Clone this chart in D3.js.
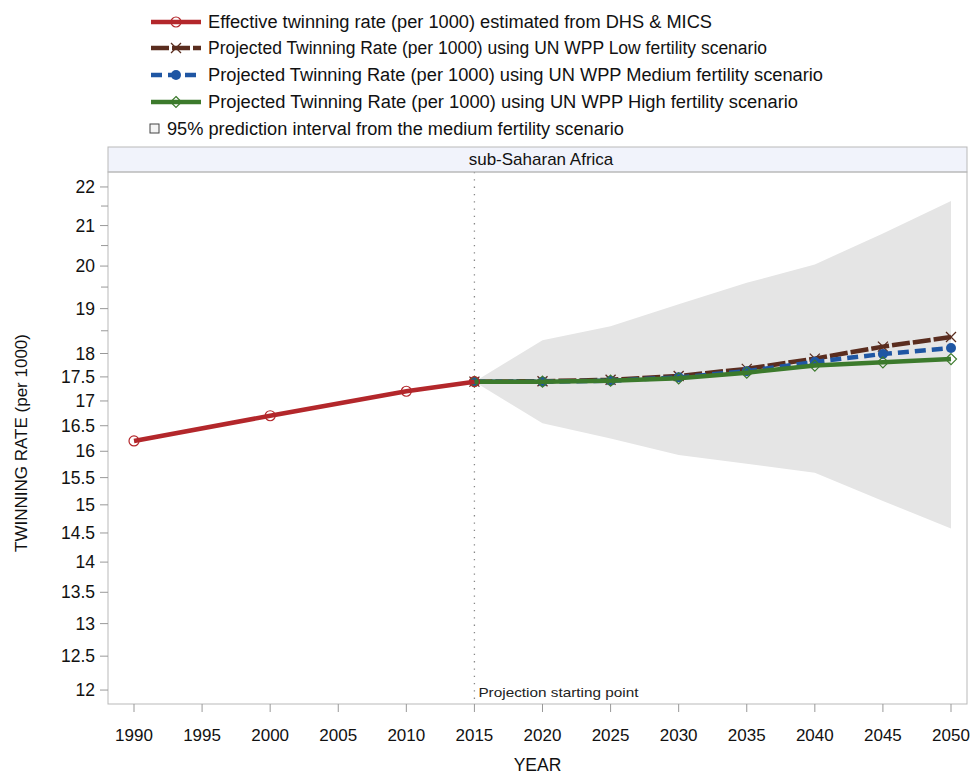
<!DOCTYPE html>
<html><head><meta charset="utf-8">
<script src="https://cdn.jsdelivr.net/npm/d3@7"></script>
<style>body{margin:0;background:#fff;} text{font-family:"Liberation Sans",Arial,sans-serif;}</style>
</head><body><svg id="c" width="973" height="775"></svg>
<script>
const years = [1990, 1995, 2000, 2005, 2010, 2015, 2020, 2025, 2030, 2035, 2040, 2045, 2050];
const obsYears = [1990, 2000, 2010, 2015];
const obsRate = [16.2, 16.7, 17.2, 17.4];
const projYears = [2015, 2020, 2025, 2030, 2035, 2040, 2045, 2050];
const lowRate = [17.4, 17.41, 17.44, 17.52, 17.67, 17.89, 18.15, 18.36];
const medRate = [17.4, 17.4, 17.42, 17.49, 17.62, 17.82, 17.99, 18.12];
const highRate = [17.4, 17.4, 17.42, 17.47, 17.59, 17.74, 17.81, 17.88];
const piUpper = [17.4, 18.29, 18.6, 19.1, 19.6, 20.04, 20.8, 21.63];
const piLower = [17.4, 16.55, 16.25, 15.93, 15.76, 15.59, 15.07, 14.58];
const yTicks = [12, 12.5, 13, 13.5, 14, 14.5, 15, 15.5, 16, 16.5, 17, 17.5, 18, 19, 20, 21, 22];
const yMinor = [18.5, 19.5, 20.5, 21.5];
const legendLabels = [
  "Effective twinning rate (per 1000) estimated from DHS & MICS",
  "Projected Twinning Rate (per 1000) using UN WPP Low fertility scenario",
  "Projected Twinning Rate (per 1000) using UN WPP Medium fertility scenario",
  "Projected Twinning Rate (per 1000) using UN WPP High fertility scenario",
  "95% prediction interval from the medium fertility scenario"
];
const legendTextLen = [504, 559, 615, 590, 457];

const svg = d3.select("#c");
const L = 108, R = 967, T = 172, B = 704, HT = 147;
const x = d3.scaleLinear().domain([1990, 2050]).range([134, 951]);
const y = d3.scaleLog().domain([11.8, 22.4]).range([B, T]);

const colRed = "#b3272b", colBrown = "#5a2d1f", colBlue = "#1f56a3", colGreen = "#3c7a2c";

// header strip
svg.append("rect").attr("x", L).attr("y", HT).attr("width", R - L).attr("height", T - HT)
  .attr("fill", "#f1f3fb").attr("stroke", "#b9b9b9").attr("stroke-width", 1);
svg.append("text").attr("x", 541).attr("y", T - 7).attr("text-anchor", "middle")
  .attr("font-size", 17).attr("fill", "#111").text("sub-Saharan Africa");

// band
const band = projYears.map((yr, i) => ({yr, lo: piLower[i], hi: piUpper[i]}));
svg.append("path").datum(band)
  .attr("d", d3.area().x(d => x(d.yr)).y0(d => y(d.lo)).y1(d => y(d.hi)))
  .attr("fill", "#e5e5e5");

// vertical dotted reference line
svg.append("line").attr("x1", x(2015)).attr("x2", x(2015)).attr("y1", T).attr("y2", B)
  .attr("stroke", "#888").attr("stroke-width", 1.3).attr("stroke-dasharray", "1.3,6");
svg.append("text").attr("x", x(2015) + 4).attr("y", B - 7).attr("font-size", 13)
  .attr("fill", "#222").attr("textLength", 160).attr("lengthAdjust", "spacingAndGlyphs")
  .text("Projection starting point");

// frame
svg.append("rect").attr("x", L).attr("y", T).attr("width", R - L).attr("height", B - T)
  .attr("fill", "none").attr("stroke", "#b9b9b9").attr("stroke-width", 1);

// y axis
const yAxis = svg.append("g");
yAxis.selectAll("line.maj").data(yTicks).join("line")
  .attr("x1", L - 8).attr("x2", L).attr("y1", d => y(d)).attr("y2", d => y(d))
  .attr("stroke", "#999");
yAxis.selectAll("line.min").data(yMinor).join("line")
  .attr("x1", L - 7).attr("x2", L).attr("y1", d => y(d)).attr("y2", d => y(d))
  .attr("stroke", "#999");
yAxis.selectAll("text").data(yTicks).join("text")
  .attr("x", L - 13).attr("y", d => y(d) + 6).attr("text-anchor", "end")
  .attr("font-size", 17.5).attr("fill", "#111").text(d => d);
svg.append("text").attr("transform", `translate(27,${(T + B) / 2 + 5}) rotate(-90)`)
  .attr("text-anchor", "middle").attr("font-size", 17).attr("fill", "#111")
  .text("TWINNING RATE (per 1000)");

// x axis
const xAxis = svg.append("g");
xAxis.selectAll("line").data(years).join("line")
  .attr("x1", d => x(d)).attr("x2", d => x(d)).attr("y1", B).attr("y2", B + 8)
  .attr("stroke", "#999");
xAxis.selectAll("text").data(years).join("text")
  .attr("x", d => x(d)).attr("y", B + 37).attr("text-anchor", "middle")
  .attr("font-size", 17).attr("fill", "#111").text(d => d);
svg.append("text").attr("x", (L + R) / 2).attr("y", 771).attr("text-anchor", "middle")
  .attr("font-size", 17.5).attr("fill", "#111").text("YEAR");

// lines
const line = d3.line().x(d => x(d[0])).y(d => y(d[1]));
const series = [
  {yrs: projYears, vals: lowRate, color: colBrown, dash: "18,3", marker: "x"},
  {yrs: projYears, vals: medRate, color: colBlue, dash: "11,6", marker: "dot"},
  {yrs: projYears, vals: highRate, color: colGreen, dash: null, marker: "diamond"},
  {yrs: obsYears, vals: obsRate, color: colRed, dash: null, marker: "circle"}
];
function drawMarker(g, type, cx, cy, color) {
  if (type === "circle") g.append("circle").attr("cx", cx).attr("cy", cy).attr("r", 5)
    .attr("fill", "none").attr("stroke", color).attr("stroke-width", 1.2);
  else if (type === "dot") g.append("circle").attr("cx", cx).attr("cy", cy).attr("r", 5)
    .attr("fill", color);
  else if (type === "x") g.append("path")
    .attr("d", `M${cx-5},${cy-5}L${cx+5},${cy+5}M${cx-5},${cy+5}L${cx+5},${cy-5}`)
    .attr("stroke", color).attr("stroke-width", 1.3);
  else if (type === "diamond") g.append("path")
    .attr("d", `M${cx},${cy-5.5}L${cx+5.5},${cy}L${cx},${cy+5.5}L${cx-5.5},${cy}Z`)
    .attr("fill", "none").attr("stroke", color).attr("stroke-width", 1.2);
}
series.forEach(s => {
  const pts = s.yrs.map((yr, i) => [yr, s.vals[i]]);
  svg.append("path").datum(pts).attr("d", line).attr("fill", "none")
    .attr("stroke", s.color).attr("stroke-width", 4.5)
    .attr("stroke-dasharray", s.dash);
  const g = svg.append("g");
  pts.forEach(p => drawMarker(g, s.marker, x(p[0]), y(p[1]), s.color));
});

// legend
const legY = [22, 48, 75, 102, 129];
const legSpec = [
  {color: colRed, dash: null, marker: "circle"},
  {color: colBrown, dash: "18,3", marker: "x"},
  {color: colBlue, dash: "11,6", marker: "dot"},
  {color: colGreen, dash: null, marker: "diamond"}
];
legendLabels.forEach((lab, i) => {
  const cy = legY[i];
  if (i < 4) {
    const s = legSpec[i];
    svg.append("line").attr("x1", 151).attr("x2", 201).attr("y1", cy).attr("y2", cy)
      .attr("stroke", s.color).attr("stroke-width", 4.5).attr("stroke-dasharray", s.dash);
    drawMarker(svg, s.marker, 176, cy, s.color);
    svg.append("text").attr("x", 208).attr("y", cy + 6).attr("font-size", 18)
      .attr("fill", "#111").attr("textLength", legendTextLen[i])
      .attr("lengthAdjust", "spacingAndGlyphs").text(lab);
  } else {
    svg.append("rect").attr("x", 150).attr("y", cy - 5).attr("width", 9).attr("height", 9)
      .attr("fill", "#f4f4f4").attr("stroke", "#444").attr("stroke-width", 1);
    svg.append("text").attr("x", 167).attr("y", cy + 6).attr("font-size", 18)
      .attr("fill", "#111").attr("textLength", legendTextLen[i])
      .attr("lengthAdjust", "spacingAndGlyphs").text(lab);
  }
});
</script></body></html>
